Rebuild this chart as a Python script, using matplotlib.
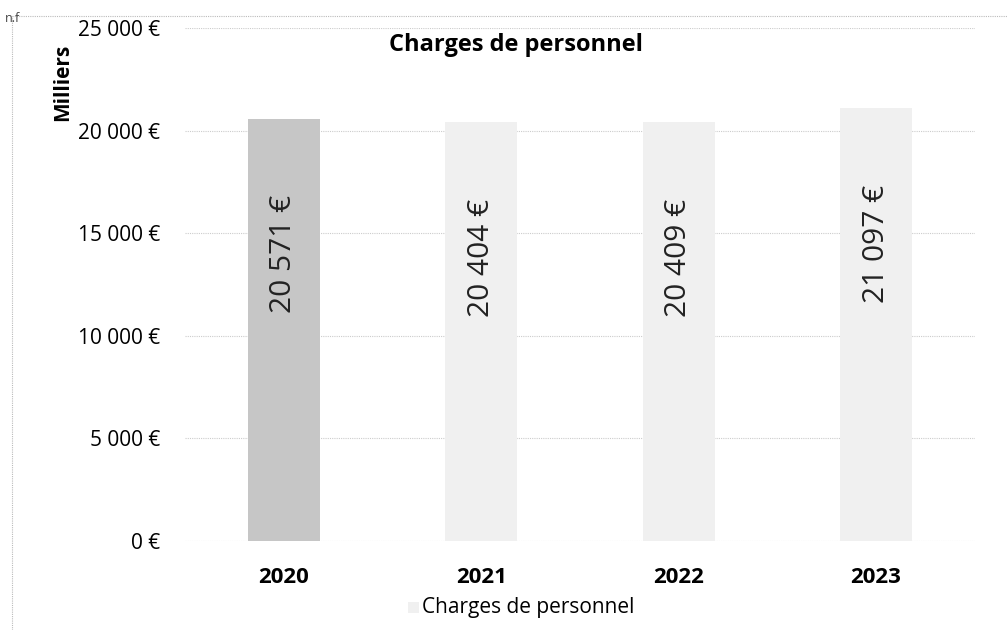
import matplotlib.pyplot as plt
import matplotlib.ticker as mticker
from matplotlib.patches import Rectangle

plt.rcParams['font.family'] = ['Open Sans', 'DejaVu Sans']

years = ['2020', '2021', '2022', '2023']
charges = [20571, 20404, 20409, 21097]
bar_colors = ['#c6c6c6', '#f0f0f0', '#f0f0f0', '#f0f0f0']
y_ticks = [0, 5000, 10000, 15000, 20000, 25000]


def fmt_euro(v, pos=None):
    return f"{int(v):,} €".replace(",", " ")


fig = plt.figure(figsize=(10.07, 6.3), dpi=100)
ax = fig.add_axes([0.1837, 0.1413, 0.7843, 0.8143])

x = range(len(years))
bars = ax.bar(x, charges, width=0.365, color=bar_colors, zorder=2)

for xi, v in zip(x, charges):
    ax.annotate(fmt_euro(v), (xi, v), xytext=(0, -55), textcoords='offset points',
                rotation=90, ha='center', va='top', fontsize=21.5, color='#222222')

ax.set_xlim(-0.5, len(years) - 0.5)
ax.set_ylim(0, 25000)
ax.set_yticks(y_ticks)
ax.yaxis.set_major_formatter(mticker.FuncFormatter(fmt_euro))
ax.set_xticks(list(x))
ax.set_xticklabels(years, fontweight='bold', fontsize=16)
ax.tick_params(axis='y', labelsize=15, length=0, pad=18)
ax.tick_params(axis='x', length=0, pad=19)
ax.grid(axis='y', color='#cccccc', linestyle=(0, (1, 1)), linewidth=0.8, zorder=0)
for s in ax.spines.values():
    s.set_visible(False)

fig.text(0.512, 0.928, 'Charges de personnel', ha='center', va='center',
         fontsize=17, fontweight='bold')
fig.text(0.062, 0.87, 'Milliers', rotation=90, ha='center', va='center',
         fontsize=15, fontweight='bold')
fig.text(0.005, 0.97, 'n.f', fontsize=9, color='#444444', ha='left', va='center')

# legend at the bottom
fig.patches.append(Rectangle((0.405, 0.027), 0.011, 0.018, transform=fig.transFigure,
                             facecolor='#f0f0f0', edgecolor='none'))
fig.text(0.419, 0.036, 'Charges de personnel', ha='left', va='center', fontsize=15)

# scanned page border
fig.add_artist(plt.Line2D([0.012, 0.012], [0.0, 0.975], transform=fig.transFigure,
                          color='#bbbbbb', linestyle=(0, (1, 1)), linewidth=0.8))
fig.add_artist(plt.Line2D([0.012, 1.0], [0.975, 0.975], transform=fig.transFigure,
                          color='#bbbbbb', linestyle=(0, (1, 1)), linewidth=0.8))

fig.savefig('out.png', dpi=100)
